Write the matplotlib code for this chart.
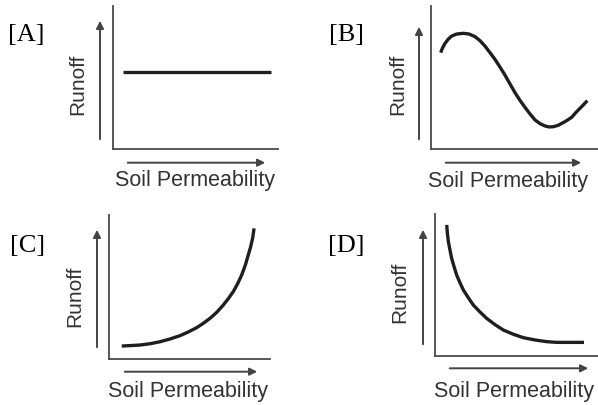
import matplotlib
matplotlib.use("Agg")
import matplotlib.pyplot as plt
from matplotlib.patches import FancyArrowPatch

W, H = 598, 405

# curve points (permeability 0-10, runoff 0-10)
a_x = [0.6, 9.6]
a_y = [5.4, 5.4]

b_x = [0.58, 0.68, 0.84, 1.04, 1.24, 1.54, 1.94, 2.28, 2.63, 2.93, 3.23, 3.53, 3.83, 4.13, 4.43, 4.73,
       5.03, 5.33, 5.63, 5.93, 6.23, 6.53, 6.83, 7.07, 7.33, 7.62, 8.02, 8.42, 8.72, 9.02, 9.36]
b_y = [6.74, 7.04, 7.39, 7.69, 7.90, 8.04, 8.09, 8.04, 7.86, 7.58, 7.20, 6.74, 6.27, 5.73, 5.17, 4.55,
       3.94, 3.40, 2.91, 2.45, 2.03, 1.77, 1.61, 1.54, 1.56, 1.66, 1.91, 2.21, 2.61, 2.96, 3.38]

c_x = [0.79, 1.30, 1.93, 2.55, 3.17, 3.79, 4.41, 4.93, 5.45, 5.86, 6.27, 6.69, 7.10, 7.41, 7.72,
       7.99, 8.24, 8.47, 8.65, 8.80, 8.92, 9.01]
c_y = [0.90, 0.93, 0.97, 1.06, 1.20, 1.39, 1.62, 1.88, 2.18, 2.48, 2.82, 3.24, 3.75, 4.19, 4.68,
       5.23, 5.83, 6.53, 7.22, 7.80, 8.38, 9.07]

d_x = [0.72, 0.76, 0.82, 0.92, 1.02, 1.17, 1.33, 1.53, 1.74, 2.04, 2.35, 2.76, 3.17, 3.68, 4.19,
       4.81, 5.42, 6.13, 6.85, 7.46, 8.08, 9.14]
d_y = [9.23, 8.64, 8.05, 7.46, 6.88, 6.29, 5.70, 5.16, 4.65, 4.11, 3.59, 3.10, 2.65, 2.21, 1.83,
       1.53, 1.29, 1.13, 1.01, 0.96, 0.96, 0.96]

panel_labels = ["[A]", "[B]", "[C]", "[D]"]
xlabel = "Soil Permeability"
ylabel = "Runoff"

# layout in pixels: axes box (left, top, right, bottom), tag pos, ylabel pos,
# up arrow (x, y0, y1), right arrow (y, x0, x1), xlabel pos
panels = [
    dict(box=(113, 6, 278, 149), tag=(8, 41), ylab=(78, 84), up=(100, 142, 18),
         right=(162.7, 125, 268), xlab=(195, 181), x=a_x, y=a_y),
    dict(box=(431, 6, 598, 149), tag=(329, 41), ylab=(398, 84), up=(419, 142, 24),
         right=(162.7, 443, 584), xlab=(508, 182), x=b_x, y=b_y),
    dict(box=(109, 215, 270, 359), tag=(10, 252), ylab=(75, 296), up=(97, 350, 227),
         right=(371.7, 122, 260), xlab=(188, 392), x=c_x, y=c_y),
    dict(box=(435, 214, 598, 356), tag=(328, 252), ylab=(400, 292), up=(423, 347, 227),
         right=(368.3, 447, 591), xlab=(514, 392), x=d_x, y=d_y),
]

fig = plt.figure(figsize=(W / 100, H / 100), dpi=100)
fig.patch.set_facecolor("white")


def fp(x, y):
    # pixel (from top-left) -> figure fraction
    return (x / W, 1 - y / H)


grey = "#333333"
sans = "Liberation Sans"

for p, tag in zip(panels, panel_labels):
    l, t, r, b = p["box"]
    ax = fig.add_axes([l / W, 1 - b / H, (r - l) / W, (b - t) / H])
    ax.set_xlim(0, 10)
    ax.set_ylim(0, 10)
    ax.set_xticks([])
    ax.set_yticks([])
    for s in ["top", "right"]:
        ax.spines[s].set_visible(False)
    for s in ["left", "bottom"]:
        ax.spines[s].set_color("#4a4a4a")
        ax.spines[s].set_linewidth(1.3)
    ax.patch.set_alpha(0)
    ax.plot(p["x"], p["y"], color="#1e1e1e", lw=2.4,
            solid_capstyle="butt", solid_joinstyle="round")

    fig.text(*fp(*p["tag"]), tag, family="Liberation Serif", fontsize=19,
             color="black", ha="left", va="baseline")
    fig.text(*fp(*p["ylab"]), ylabel, family=sans, fontsize=15, color=grey,
             rotation=90, ha="center", va="center")
    fig.text(*fp(*p["xlab"]), xlabel, family=sans, fontsize=15.5, color=grey,
             ha="center", va="center")

    ux, uy0, uy1 = p["up"]
    fig.add_artist(FancyArrowPatch(
        fp(ux, uy0), fp(ux, uy1), transform=fig.transFigure,
        arrowstyle="-|>", mutation_scale=11, color="#444444", lw=1.4))
    ry, rx0, rx1 = p["right"]
    fig.add_artist(FancyArrowPatch(
        fp(rx0, ry), fp(rx1, ry), transform=fig.transFigure,
        arrowstyle="-|>", mutation_scale=11, color="#444444", lw=1.4))

fig.savefig("out.png", dpi=100, facecolor="white")
